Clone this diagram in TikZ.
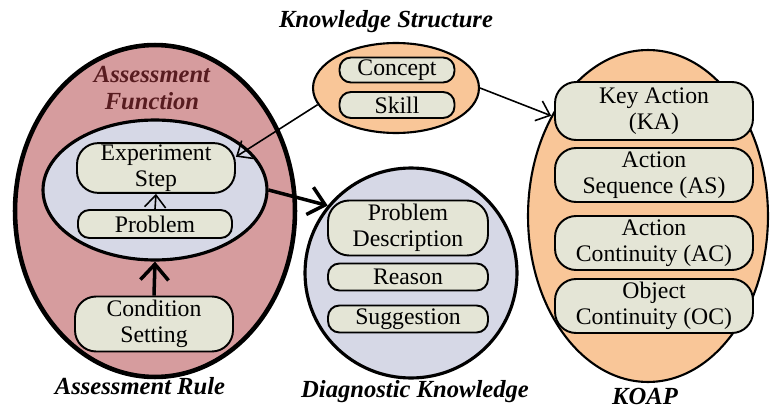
\documentclass[tikz,border=0pt]{standalone}
\usepackage{fontspec}
\setmainfont{Liberation Serif}
\usetikzlibrary{shapes.geometric, arrows.meta, positioning}
\usepackage{xcolor}
\definecolor{rulepink}{RGB}{214,156,158}
\definecolor{paleblue}{RGB}{214,216,230}
\definecolor{softorange}{RGB}{249,198,152}
\definecolor{creambox}{RGB}{228,229,214}
\definecolor{darkmaroon}{RGB}{88,28,32}

\begin{document}
\begin{tikzpicture}[x=0.02cm, y=-0.02cm,
    item/.style={draw, line width=1.1pt, fill=creambox, rounded corners=6.5pt,
      align=center, inner sep=1pt, font=\fontsize{13.5}{14.5}\selectfont},
    tallitem/.style={item, rounded corners=12pt},
    blob/.style={draw, ellipse, inner sep=0pt},
    heading/.style={font=\fontsize{14}{16}\selectfont\bfseries\itshape, align=center},
    link/.style={-{Straight Barb[length=7pt,width=12pt]}, line width=0.9pt},
    boldlink/.style={-{Straight Barb[length=9pt,width=16pt]}, line width=2pt}]
  \useasboundingbox (0,0) rectangle (775,409);

  % Assessment rule with its inner function
  \node[blob, fill=rulepink, line width=2.6pt, minimum width=5.6cm, minimum height=6.64cm] (rule) at (155,211) {};
  \node[heading, text=darkmaroon] (funtitle) at (152,88) {Assessment\\[-1pt]Function};
  \node[blob, fill=paleblue, line width=1.8pt, minimum width=4.48cm, minimum height=2.8cm] (func) at (155,190) {};
  \node[tallitem, minimum width=3.16cm, minimum height=0.94cm] (exp) at (156,168) {Experiment\\Step};
  \node[item, minimum width=3.08cm, minimum height=0.56cm] (prob) at (155,224) {Problem};
  \node[tallitem, minimum width=3.16cm, minimum height=1.1cm] (cond) at (154,324) {Condition\\Setting};
  \node[heading] (ruletitle) at (140,386) {Assessment Rule};

  % Knowledge structure
  \node[heading] (kstitle) at (386,22) {Knowledge Structure};
  \node[blob, fill=softorange, line width=1.2pt, minimum width=3.32cm, minimum height=1.8cm] (ks) at (396,88) {};
  \node[item, minimum width=2.3cm, minimum height=0.5cm] (concept) at (397,70) {Concept};
  \node[item, minimum width=2.3cm, minimum height=0.52cm] (skill) at (397,105) {Skill};

  % Diagnostic knowledge
  \node[blob, fill=paleblue, line width=1.8pt, minimum width=4.24cm, minimum height=4.2cm] (diag) at (411,273) {};
  \node[tallitem, minimum width=3.2cm, minimum height=1.1cm] (desc) at (408,228) {Problem\\Description};
  \node[item, minimum width=3.2cm, minimum height=0.54cm] (reason) at (408,277) {Reason};
  \node[item, minimum width=3.2cm, minimum height=0.54cm] (sugg) at (408,319) {Suggestion};
  \node[heading] (diagtitle) at (415,392) {Diagnostic Knowledge};

  % KOAP
  \node[blob, fill=softorange, line width=1.2pt, minimum width=4.8cm, minimum height=6.64cm] (koap) at (648,216) {};
  \node[tallitem, minimum width=3.96cm, minimum height=1.16cm] (ka) at (654,111) {Key Action\\(KA)};
  \node[tallitem, minimum width=3.96cm, minimum height=1.08cm] (as) at (654,175) {Action\\Sequence (AS)};
  \node[tallitem, minimum width=3.96cm, minimum height=1.08cm] (ac) at (654,243) {Action\\Continuity (AC)};
  \node[tallitem, minimum width=3.96cm, minimum height=1.08cm] (oc) at (654,306) {Object\\Continuity (OC)};
  \node[heading] (koaptitle) at (645,396) {KOAP};

  % connectors
  \draw[link] (prob.north) -- (exp.south);
  \draw[boldlink] (cond.north) -- (func.south);
  \draw[link] (ks.192) -- (exp.8);
  \draw[link] (ks.east) -- (koap.134);
  \draw[boldlink] (func.east) -- (diag.141);
\end{tikzpicture}
\end{document}
